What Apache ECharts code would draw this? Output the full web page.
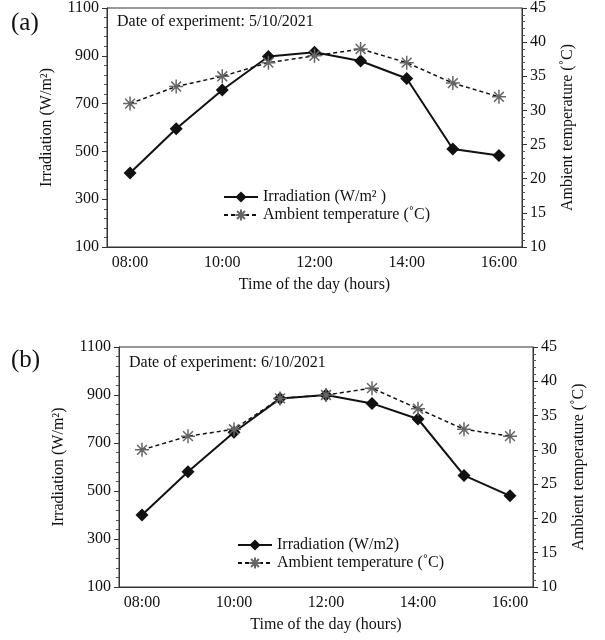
<!DOCTYPE html>
<html>
<head>
<meta charset="utf-8">
<script src="https://cdn.jsdelivr.net/npm/echarts@6/dist/echarts.min.js"></script>
<style>html,body{margin:0;padding:0;background:#fff}#chart{width:605px;height:640px}</style>
</head>
<body>
<div id="chart"></div>
<script>
const hours = ['08:00', '09:00', '10:00', '11:00', '12:00', '13:00', '14:00', '15:00', '16:00'];
const irradiationA = [410, 595, 757, 897, 915, 878, 805, 510, 483];
const temperatureA = [31, 33.5, 35, 37, 38, 39, 37, 34, 32];
const irradiationB = [400, 580, 745, 885, 900, 865, 800, 565, 480];
const temperatureB = [30, 32, 33, 37.5, 38, 39, 36, 33, 32];

const font = 'Liberation Serif';
const chart = echarts.init(document.getElementById('chart'));
const txt = { fontFamily: font, fontSize: 16, color: '#111' };
const line = { lineStyle: { color: '#333' } };

function xAxis(idx) {
    return {
        type: 'category', gridIndex: idx, data: hours,
        name: 'Time of the day (hours)', nameLocation: 'middle', nameGap: 30,
        nameTextStyle: txt, axisLabel: Object.assign({ margin: 8 }, txt),
        axisLine: line, axisTick: { lineStyle: { color: '#333' } }
    };
}
function leftAxis(idx) {
    return {
        type: 'value', gridIndex: idx, min: 100, max: 1100, interval: 200,
        name: 'Irradiation (W/m\u00b2)', nameLocation: 'middle', nameGap: 52,
        nameTextStyle: txt, axisLabel: Object.assign({ formatter: v => String(v) }, txt), splitLine: { show: false },
        axisLine: Object.assign({ show: true }, line), axisTick: { show: true, lineStyle: { color: '#333' } },
        minorTick: { show: true, splitNumber: 5, length: 3, lineStyle: { color: '#555' } }
    };
}
function rightAxis(idx) {
    return {
        type: 'value', gridIndex: idx, position: 'right', min: 10, max: 45, interval: 5,
        name: 'Ambient temperature (\u02daC)', nameLocation: 'middle', nameGap: 38, nameRotate: 90,
        nameTextStyle: txt, axisLabel: txt, splitLine: { show: false },
        axisLine: Object.assign({ show: true }, line), axisTick: { show: true, lineStyle: { color: '#333' } },
        minorTick: { show: true, splitNumber: 5, length: 3, lineStyle: { color: '#555' } }
    };
}
function irr(name, data, i) {
    return { name: name, type: 'line', xAxisIndex: i, yAxisIndex: i * 2, data: data,
        symbol: 'diamond', symbolSize: 13, itemStyle: { color: '#111' },
        lineStyle: { color: '#111', width: 2 } };
}
function temp(data, i) {
    return { name: 'Ambient temperature (\u02daC)', type: 'line', xAxisIndex: i, yAxisIndex: i * 2 + 1, data: data,
        symbol: 'path://M0,5L10,5M5,0L5,10M1.5,1.5L8.5,8.5M8.5,1.5L1.5,8.5', symbolSize: 14,
        itemStyle: { color: '#fff', borderColor: '#666', borderWidth: 1.5 },
        lineStyle: { color: '#111', width: 1.5, type: [4, 3] } };
}

chart.setOption({
    animation: false,
    textStyle: { fontFamily: font },
    title: [
        { text: '(a)', left: 6, top: 6, textStyle: { fontFamily: font, fontSize: 25, fontWeight: 'normal', color: '#111' } },
        { text: '(b)', left: 6, top: 343, textStyle: { fontFamily: font, fontSize: 25, fontWeight: 'normal', color: '#111' } },
        { text: 'Date of experiment: 5/10/2021', left: 112, top: 9, textStyle: Object.assign({ fontWeight: 'normal' }, txt) },
        { text: 'Date of experiment: 6/10/2021', left: 124, top: 350, textStyle: Object.assign({ fontWeight: 'normal' }, txt) }
    ],
    legend: [
        { data: [{ name: 'Irradiation (W/m\u00b2 )' }, { name: 'Ambient temperature (\u02daC)' }],
          orient: 'vertical', left: 218, top: 184, itemGap: 2, itemWidth: 34, textStyle: txt },
        { data: [{ name: 'Irradiation (W/m2)' }, { name: 'Ambient temperature (\u02daC)' }],
          orient: 'vertical', left: 232, top: 532, itemGap: 2, itemWidth: 34, textStyle: txt }
    ],
    grid: [
        { left: 107, right: 83, top: 7, height: 240, show: true, borderColor: '#333', borderWidth: 1 },
        { left: 119, right: 72, top: 347, height: 240, show: true, borderColor: '#333', borderWidth: 1 }
    ],
    xAxis: [xAxis(0), xAxis(1)],
    yAxis: [leftAxis(0), rightAxis(0), leftAxis(1), rightAxis(1)],
    series: [
        irr('Irradiation (W/m\u00b2 )', irradiationA, 0), temp(temperatureA, 0),
        irr('Irradiation (W/m2)', irradiationB, 1), temp(temperatureB, 1)
    ]
});
</script>
</body>
</html>
